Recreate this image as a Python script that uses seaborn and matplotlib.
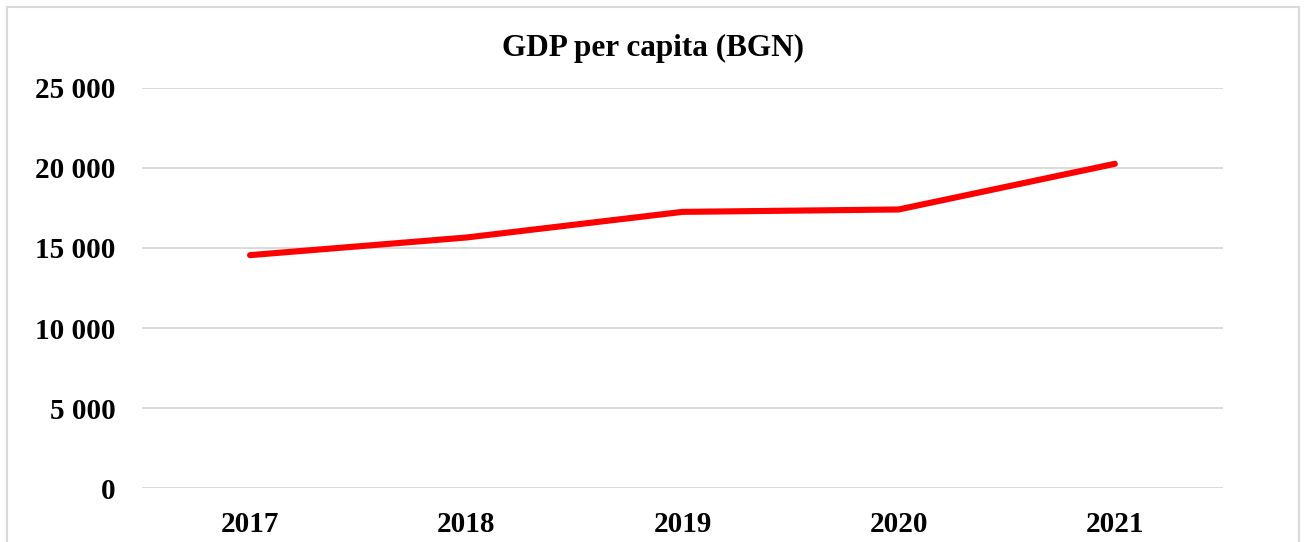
import matplotlib
matplotlib.use('Agg')
import matplotlib.pyplot as plt
from matplotlib.patches import Rectangle
from matplotlib.ticker import FuncFormatter
import seaborn as sns
import pandas as pd

# GDP per capita values
years = ['2017', '2018', '2019', '2020', '2021']
gdp_per_capita = [14550, 15650, 17250, 17400, 20250]
y_ticks = [0, 5000, 10000, 15000, 20000, 25000]

data = pd.DataFrame({'Year': years, 'GDP': gdp_per_capita})

sns.set_theme(style='white')
plt.rcParams['font.family'] = ['Liberation Serif', 'DejaVu Serif']
plt.rcParams['font.weight'] = 'bold'
plt.rcParams['text.color'] = 'black'
plt.rcParams['xtick.color'] = 'black'
plt.rcParams['ytick.color'] = 'black'

fig = plt.figure(figsize=(13.06, 5.42), dpi=100)
ax = fig.add_axes([0.1087, 0.0991, 0.8277, 0.7391])

sns.lineplot(data=data, x='Year', y='GDP', ax=ax, color='#ff0000',
             linewidth=4.4, solid_capstyle='round', solid_joinstyle='round', sort=False)

ax.set_xlim(-0.5, len(years) - 0.5)
ax.set_ylim(0, 25000)
ax.set_yticks(y_ticks)
ax.yaxis.set_major_formatter(FuncFormatter(lambda v, p: f'{int(v):,}'.replace(',', ' ')))
ax.grid(axis='y', color='#d9d9d9', linewidth=1.4)
ax.set_axisbelow(True)
for s in ax.spines.values():
    s.set_visible(False)
ax.tick_params(axis='both', length=0, labelsize=21, labelcolor='black')
ax.tick_params(axis='y', pad=19)
ax.tick_params(axis='x', pad=16)
for lbl in ax.get_xticklabels() + ax.get_yticklabels():
    lbl.set_fontweight('bold')
ax.set_xlabel('')
ax.set_ylabel('')

fig.text(0.5, 0.91, 'GDP per capita (BGN)', ha='center', va='center',
         fontsize=22.5, fontweight='bold', color='black')

# light chart-area border like the spreadsheet export
fig.patches.append(Rectangle((7 / 1306, -0.05), 1292 / 1306, (542 - 7) / 542 + 0.05,
                             transform=fig.transFigure, fill=False,
                             edgecolor='#d9d9d9', linewidth=1.5))

fig.savefig('out.png', dpi=100)
